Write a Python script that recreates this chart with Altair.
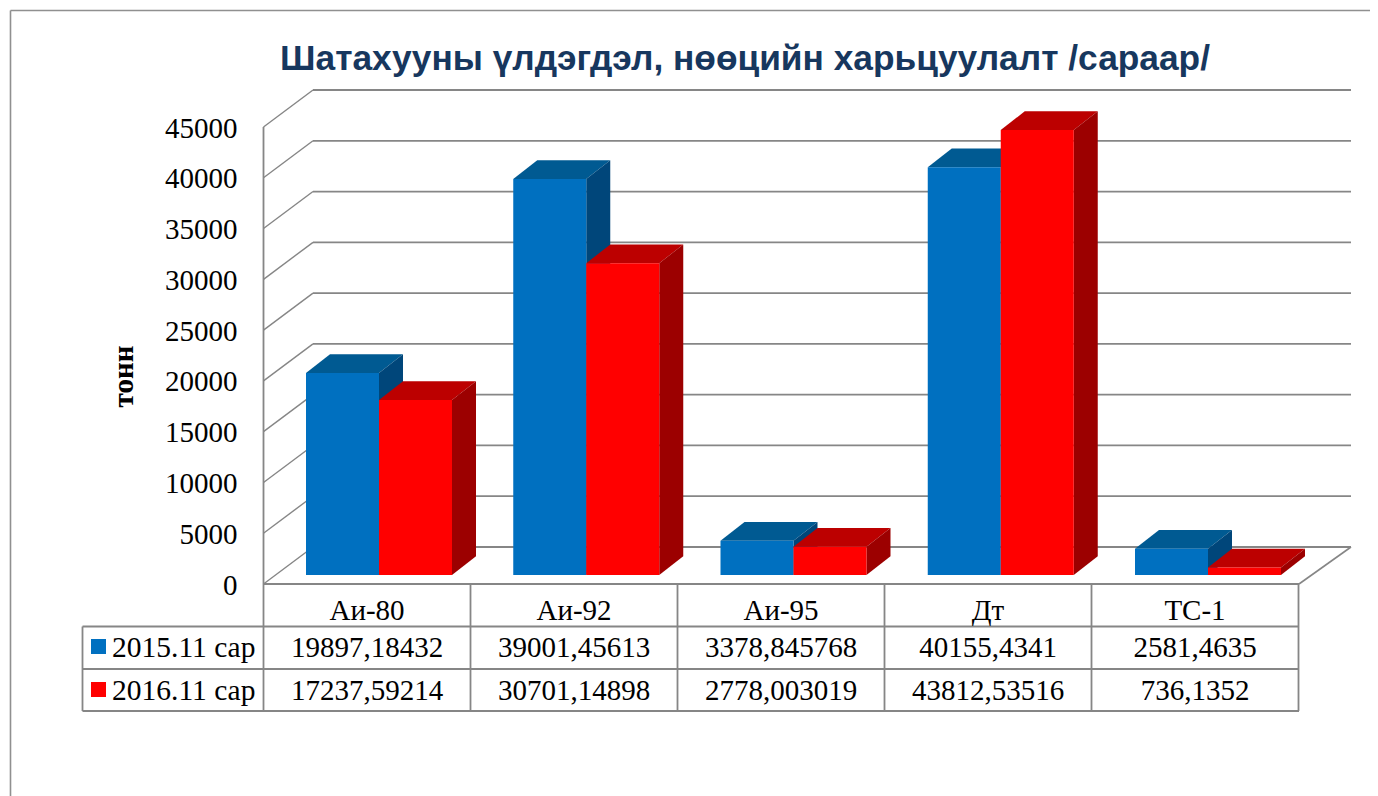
import altair as alt
import pandas as pd

categories = ["Аи-80", "Аи-92", "Аи-95", "Дт", "ТС-1"]
series_names = ["2015.11 сар", "2016.11 сар"]
labels_2015 = ["19897,18432", "39001,45613", "3378,845768", "40155,4341", "2581,4635"]
labels_2016 = ["17237,59214", "30701,14898", "2778,003019", "43812,53516", "736,1352"]
values_2015 = [19897.18432, 39001.45613, 3378.845768, 40155.4341, 2581.4635]
values_2016 = [17237.59214, 30701.14898, 2778.003019, 43812.53516, 736.1352]
ticks = [0, 5000, 10000, 15000, 20000, 25000, 30000, 35000, 40000, 45000]
chart_title = "Шатахууны үлдэгдэл, нөөцийн харьцуулалт /сараар/"

W, H = 1362, 788
k = 457 / 45000          # pixels per unit of value
Y0 = 584                 # pixel row of value 0 on the front plane


def yv(p):
    return (Y0 - p) / k


GRID = "#868686"
SERIF = "Liberation Serif"
FACE = ["#0070C0", "#FF0000"]
TOP = ["#005A92", "#BC0000"]
SIDE = ["#00467A", "#9C0000"]

x_scale = alt.Scale(domain=[8, 8 + W], nice=False, zero=False)
y_scale = alt.Scale(domain=[yv(8 + H), yv(8)], nice=False, zero=False)
X = alt.X("x:Q", scale=x_scale, axis=None)
Y = alt.Y("y:Q", scale=y_scale)

# ---- frame, walls, floor and table lines
segments = []


def seg(x1, y1, x2, y2, w=1.6, c=GRID):
    i = len(segments)
    segments.append(dict(id=i, x=x1, y=yv(y1), w=w, c=c))
    segments.append(dict(id=i, x=x2, y=yv(y2), w=w, c=c))


seg(10.5, 10.5, 8 + W, 10.5, 1.6, "#909090")
seg(10.5, 10.5, 10.5, 8 + H, 1.6, "#909090")
for t in ticks:
    py = Y0 - t * k
    seg(263.5, py, 313, py - 37, 1.4)
    seg(313, py - 37, 1351, py - 37, 1.8)
seg(263.5, Y0 - 45000 * k, 263.5, Y0, 1.8)
seg(1299, Y0, 1351, Y0 - 37, 1.6)
seg(263, Y0, 1299, Y0, 2)
table_cols = [263.5 + 207 * i for i in range(6)]
for x_ in table_cols:
    seg(x_, Y0, x_, 711, 1.8)
for y_ in [626.5, 669, 711]:
    seg(82.5, y_, 1299, y_, 1.8)
seg(82.5, 626.5, 82.5, 711, 1.8)
seg_df = pd.DataFrame(segments)

# ---- y axis (invisible line carrying the labels and title)
axis_layer = (
    alt.Chart(pd.DataFrame({"x": [263.5, 263.5], "y": [0, 45000]}))
    .mark_line(opacity=0)
    .encode(
        x=X,
        y=alt.Y(
            "y:Q",
            scale=y_scale,
            axis=alt.Axis(
                orient="left",
                offset=-229,
                values=ticks,
                format="d",
                domain=False,
                ticks=False,
                grid=False,
                labelPadding=0,
                labelOffset=1,
                labelFont=SERIF,
                labelFontSize=29,
                labelColor="#000000",
                labelOverlap=False,
                title="тонн",
                titleFont=SERIF,
                titleFontSize=29,
                titleFontWeight="bold",
                titleColor="#000000",
                titleAngle=270,
                titleX=-114,
                titleY=368,
                titleBaseline="middle",
                titleAlign="center",
            ),
        ),
    )
)

lines = (
    alt.Chart(seg_df)
    .mark_line(clip=False)
    .encode(
        x=X,
        y=Y,
        detail="id:N",
        color=alt.Color("c:N", scale=None),
        strokeWidth=alt.StrokeWidth("w:Q", scale=None),
    )
)

# ---- 3D bars
BASE_PX = 575
BAR_W = 73
DX, DY = 24, 18.7
bar_layers = []
for s, vals in enumerate([values_2015, values_2016]):
    top_rows, side_rows, front_rows = [], [], []
    for i, v in enumerate(vals):
        x0 = 306 + 207.25 * i + s * BAR_W
        x1 = x0 + BAR_W
        base = yv(BASE_PX)
        yt = base + v
        d = DY / k
        front_rows.append(dict(x=x0, x2=x1, y=base, y2=yt))
        side_rows += [
            dict(id=i, x=x1, y=base, y2=yt),
            dict(id=i, x=x1 + DX, y=base + d, y2=yt + d),
        ]
        top_rows += [
            dict(id=i, x=x0, y=yt, y2=yt),
            dict(id=i, x=x0 + DX, y=yt, y2=yt + d),
            dict(id=i, x=x1, y=yt, y2=yt + d),
            dict(id=i, x=x1 + DX, y=yt + d, y2=yt + d),
        ]
    for rows, col in ((top_rows, TOP[s]), (side_rows, SIDE[s])):
        bar_layers.append(
            alt.Chart(pd.DataFrame(rows))
            .mark_area(color=col, orient="vertical", interpolate="linear")
            .encode(x=X, y=alt.Y("y:Q", scale=y_scale, stack=None), y2="y2:Q", detail="id:N")
        )
    bar_layers.append(
        alt.Chart(pd.DataFrame(front_rows))
        .mark_rect(color=FACE[s])
        .encode(x=X, x2="x2:Q", y=Y, y2="y2:Q")
    )

# ---- table text
table_rows = []
for i, c in enumerate(categories):
    cx = 263.5 + 207 * (i + 0.5)
    table_rows.append(dict(x=cx, y=yv(620), t=c))
    table_rows.append(dict(x=cx, y=yv(656.5), t=labels_2015[i]))
    table_rows.append(dict(x=cx, y=yv(699.5), t=labels_2016[i]))
table_text = (
    alt.Chart(pd.DataFrame(table_rows))
    .mark_text(font=SERIF, fontSize=29, color="#000000", align="center", baseline="alphabetic")
    .encode(x=X, y=Y, text="t:N")
)
legend_text = (
    alt.Chart(pd.DataFrame([dict(x=112, y=yv(656.5), t=series_names[0]), dict(x=112, y=yv(699.5), t=series_names[1])]))
    .mark_text(font=SERIF, fontSize=29.5, color="#000000", align="left", baseline="alphabetic")
    .encode(x=X, y=Y, text="t:N")
)
legend_keys = (
    alt.Chart(pd.DataFrame([dict(x=98.5, y=yv(646.5), c=FACE[0]), dict(x=98.5, y=yv(689.5), c=FACE[1])]))
    .mark_square(size=225, opacity=1)
    .encode(x=X, y=Y, color=alt.Color("c:N", scale=None))
)
title_layer = (
    alt.Chart(pd.DataFrame([dict(x=745, y=yv(70), t=chart_title)]))
    .mark_text(font="Liberation Sans", fontSize=35.3, fontWeight="bold", color="#17375E", align="center", baseline="alphabetic")
    .encode(x=X, y=Y, text="t:N")
)

chart = (
    alt.layer(axis_layer, lines, *bar_layers, table_text, legend_text, legend_keys, title_layer)
    .resolve_scale(color="independent")
    .properties(width=W, height=H, padding=0, autosize=alt.AutoSizeParams(type="none"), background="#FFFFFF")
    .configure_view(stroke=None)
)
chart.save("out.html", embed_options={"renderer": "svg", "actions": False})
